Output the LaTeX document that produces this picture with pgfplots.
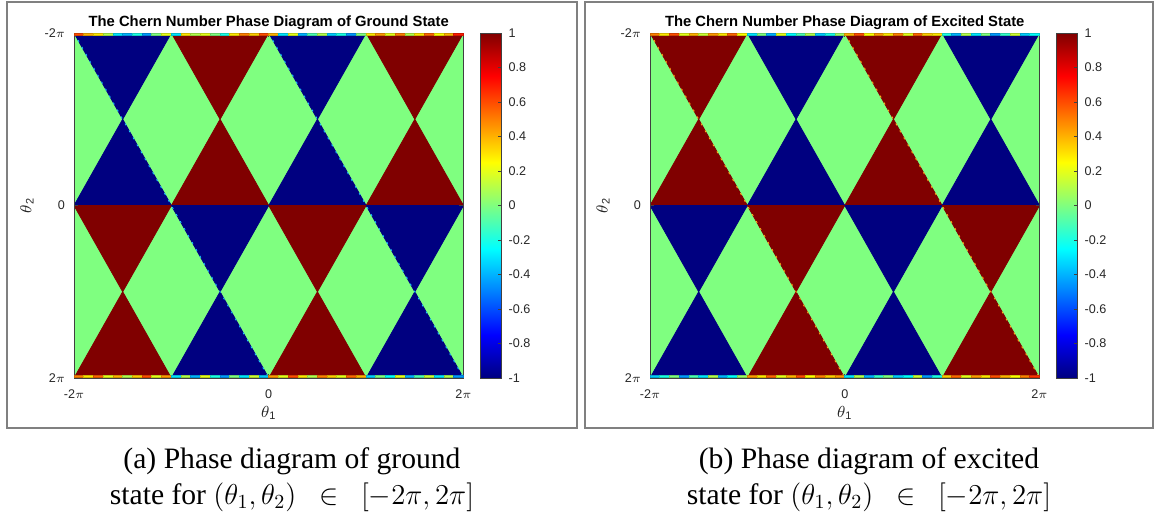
\documentclass[border=0pt]{standalone}
\usepackage{pgfplots}
\pgfplotsset{compat=1.18}
\usepackage{pgfplotstable}
\usepackage{fontspec}
\setmainfont{Liberation Serif}
\newfontfamily\lsans{Liberation Sans}

\definecolor{framegray}{gray}{0.5}
\definecolor{axgray}{gray}{0.25}
\definecolor{fringecyan}{rgb}{0.1,0.78,1}
\definecolor{fringeorange}{rgb}{1,0.68,0.1}

% triangles: x, y in units of pi ; c = Chern number
\pgfplotstableread{
x y c
-2 -2 0
2 -2 0
2 2 0
-2 -2 0
2 2 0
-2 2 0
-2 -2 -1
-1 -2 -1
-1.5 -1 -1
-1 -2 1
0 -2 1
-0.5 -1 1
0 -2 -1
1 -2 -1
0.5 -1 -1
1 -2 1
2 -2 1
1.5 -1 1
-2 0 -1
-1 0 -1
-1.5 -1 -1
-1 0 1
0 0 1
-0.5 -1 1
0 0 -1
1 0 -1
0.5 -1 -1
1 0 1
2 0 1
1.5 -1 1
-2 0 1
-1 0 1
-1.5 1 1
-1 0 -1
0 0 -1
-0.5 1 -1
0 0 1
1 0 1
0.5 1 1
1 0 -1
2 0 -1
1.5 1 -1
-2 2 1
-1 2 1
-1.5 1 1
-1 2 -1
0 2 -1
-0.5 1 -1
0 2 1
1 2 1
0.5 1 1
1 2 -1
2 2 -1
1.5 1 -1
}\groundtri

\pgfplotstableread{
x y c
-2 -2 0
2 -2 0
2 2 0
-2 -2 0
2 2 0
-2 2 0
-2 -2 1
-1 -2 1
-1.5 -1 1
-1 -2 -1
0 -2 -1
-0.5 -1 -1
0 -2 1
1 -2 1
0.5 -1 1
1 -2 -1
2 -2 -1
1.5 -1 -1
-2 0 1
-1 0 1
-1.5 -1 1
-1 0 -1
0 0 -1
-0.5 -1 -1
0 0 1
1 0 1
0.5 -1 1
1 0 -1
2 0 -1
1.5 -1 -1
-2 0 -1
-1 0 -1
-1.5 1 -1
-1 0 1
0 0 1
-0.5 1 1
0 0 -1
1 0 -1
0.5 1 -1
1 0 1
2 0 1
1.5 1 1
-2 2 -1
-1 2 -1
-1.5 1 -1
-1 2 1
0 2 1
-0.5 1 1
0 2 -1
1 2 -1
0.5 1 -1
1 2 1
2 2 1
1.5 1 1
}\excitedtri

\pgfplotsset{
  chern/.style={
    scale only axis, width=194.75pt, height=172.5pt,
    xmin=-2, xmax=2, ymin=-2, ymax=2, y dir=reverse,
    axis on top,
    colormap/jet, point meta min=-1, point meta max=1,
    xtick={-2,0,2}, xticklabels={-2$\pi$,0,2$\pi$},
    ytick={-2,0,2}, yticklabels={-2$\pi$,0,2$\pi$},
    tick align=inside, major tick length=2pt,
    axis line style={axgray, line width=0.4pt},
    tick style={axgray, line width=0.4pt},
    every tick label/.append style={font=\lsans\fontsize{6.3}{7}\selectfont, text=black!85},
    xticklabel style={anchor=base, yshift=-10pt},
    yticklabel style={anchor=east, xshift=-1pt},
    every axis title shift=0pt,
    title style={font=\lsans\bfseries\fontsize{7.4}{8}\selectfont, at={([yshift=3.5pt]axis description cs:0.5,1)}, anchor=base},
    xlabel={$\theta$\textsubscript{1}},
    ylabel={$\theta$\textsubscript{2}},
    xlabel style={font=\lsans\fontsize{7.8}{9}\selectfont, text=black!85, at={([yshift=-19.5pt]axis description cs:0.5,0)}, anchor=base},
    ylabel style={font=\lsans\fontsize{7.8}{9}\selectfont, text=black!85, at={([xshift=-21.25pt]axis description cs:0,0.5)}, anchor=base},
    colorbar,
    colorbar style={
      at={(parent axis.north east)}, anchor=north west, xshift=-0.25pt,
      width=10.75pt,
      ytick={-1,-0.8,-0.6,-0.4,-0.2,0,0.2,0.4,0.6,0.8,1},
      yticklabels={-1,-0.8,-0.6,-0.4,-0.2,0,0.2,0.4,0.6,0.8,1},
      ytick pos=right,
      tick align=inside, major tick length=2pt,
      axis line style={axgray, line width=0.4pt},
      tick style={axgray, line width=0.4pt},
      yticklabel style={font=\lsans\fontsize{6.3}{7}\selectfont, text=black!85},
    },
  },
  strip/.style={scatter, only marks, mark=square*, mark size=2.44pt,
    mark options={yscale=0.24}, point meta=explicit},
  fringe/.style={line width=0.45pt, dash pattern=on 1pt off 3pt},
}

\begin{document}
\begin{tikzpicture}
\path (0,0) rectangle (577.5pt,-259.5pt);
\draw[framegray, line width=0.6pt] (3.5pt,-1pt) rectangle (288.5pt,-214pt);
\draw[framegray, line width=0.6pt] (292.5pt,-1pt) rectangle (576.5pt,-214pt);

% ---------------- Ground state ----------------
\begin{axis}[chern, at={(37pt,-189pt)}, anchor=south west,
  title={The Chern Number Phase Diagram of Ground State}]
\addplot[patch, shader=flat] table[point meta=\thisrow{c}] {\groundtri};
\addplot[fringecyan, fringe] coordinates {(-2,-2) (0,2)};
\addplot[fringecyan, fringe] coordinates {(0,-2) (2,2)};
\addplot[strip] coordinates {
(-1.95,-1.985)[0.6] (-1.85,-1.985)[0.4] (-1.75,-1.985)[0.3] (-1.65,-1.985)[0.1] (-1.55,-1.985)[-0.3]
(-1.45,-1.985)[-0.4] (-1.35,-1.985)[-0.2] (-1.25,-1.985)[-0.45] (-1.15,-1.985)[0.0] (-1.05,-1.985)[0.2]
(-0.95,-1.985)[-0.3] (-0.85,-1.985)[0.3] (-0.75,-1.985)[0.1] (-0.65,-1.985)[0.2] (-0.55,-1.985)[0.0]
(-0.45,-1.985)[-0.2] (-0.35,-1.985)[0.3] (-0.25,-1.985)[0.5] (-0.15,-1.985)[0.35] (-0.05,-1.985)[0.6]
(0.05,-1.985)[0.4] (0.15,-1.985)[-0.3] (0.25,-1.985)[0.2] (0.35,-1.985)[-0.4] (0.45,-1.985)[-0.1]
(0.55,-1.985)[0.1] (0.65,-1.985)[-0.35] (0.75,-1.985)[-0.2] (0.85,-1.985)[-0.45] (0.95,-1.985)[0.0]
(1.05,-1.985)[0.3] (1.15,-1.985)[0.45] (1.25,-1.985)[0.2] (1.35,-1.985)[0.5] (1.45,-1.985)[0.1]
(1.55,-1.985)[0.3] (1.65,-1.985)[0.55] (1.75,-1.985)[0.25] (1.85,-1.985)[0.4] (1.95,-1.985)[0.7]
};
\addplot[strip] coordinates {
(-1.95,1.985)[0.5] (-1.85,1.985)[0.3] (-1.75,1.985)[0.55] (-1.65,1.985)[0.2] (-1.55,1.985)[0.4]
(-1.45,1.985)[0.1] (-1.35,1.985)[0.35] (-1.25,1.985)[0.6] (-1.15,1.985)[0.2] (-1.05,1.985)[0.45]
(-0.95,1.985)[-0.3] (-0.85,1.985)[0.1] (-0.75,1.985)[-0.4] (-0.65,1.985)[0.2] (-0.55,1.985)[-0.2]
(-0.45,1.985)[-0.45] (-0.35,1.985)[0.0] (-0.25,1.985)[-0.3] (-0.15,1.985)[0.15] (-0.05,1.985)[-0.35]
(0.05,1.985)[0.45] (0.15,1.985)[0.2] (0.25,1.985)[0.6] (0.35,1.985)[0.3] (0.45,1.985)[0.1]
(0.55,1.985)[0.5] (0.65,1.985)[0.35] (0.75,1.985)[0.2] (0.85,1.985)[0.55] (0.95,1.985)[0.4]
(1.05,1.985)[-0.35] (1.15,1.985)[0.0] (1.25,1.985)[-0.25] (1.35,1.985)[0.2] (1.45,1.985)[-0.4]
(1.55,1.985)[-0.1] (1.65,1.985)[0.15] (1.75,1.985)[-0.3] (1.85,1.985)[0.1] (1.95,1.985)[-0.45]
};
\end{axis}

% ---------------- Excited state ----------------
\begin{axis}[chern, at={(325pt,-189pt)}, anchor=south west,
  title={The Chern Number Phase Diagram of Excited State}]
\addplot[patch, shader=flat] table[point meta=\thisrow{c}] {\excitedtri};
\addplot[fringeorange, fringe] coordinates {(-2,-2) (0,2)};
\addplot[fringeorange, fringe] coordinates {(0,-2) (2,2)};
\addplot[strip] coordinates {
(-1.95,-1.985)[0.5] (-1.85,-1.985)[0.3] (-1.75,-1.985)[0.6] (-1.65,-1.985)[0.2] (-1.55,-1.985)[0.4]
(-1.45,-1.985)[0.15] (-1.35,-1.985)[0.45] (-1.25,-1.985)[0.3] (-1.15,-1.985)[0.55] (-1.05,-1.985)[0.25]
(-0.95,-1.985)[-0.3] (-0.85,-1.985)[0.0] (-0.75,-1.985)[-0.4] (-0.65,-1.985)[0.2] (-0.55,-1.985)[-0.25]
(-0.45,-1.985)[-0.1] (-0.35,-1.985)[0.1] (-0.25,-1.985)[-0.35] (-0.15,-1.985)[-0.2] (-0.05,-1.985)[0.05]
(0.05,-1.985)[0.4] (0.15,-1.985)[0.6] (0.25,-1.985)[0.25] (0.35,-1.985)[0.45] (0.45,-1.985)[0.3]
(0.55,-1.985)[0.5] (0.65,-1.985)[0.2] (0.75,-1.985)[0.55] (0.85,-1.985)[0.35] (0.95,-1.985)[0.3]
(1.05,-1.985)[-0.2] (1.15,-1.985)[-0.4] (1.25,-1.985)[0.1] (1.35,-1.985)[-0.3] (1.45,-1.985)[0.0]
(1.55,-1.985)[-0.45] (1.65,-1.985)[-0.15] (1.75,-1.985)[0.15] (1.85,-1.985)[-0.35] (1.95,-1.985)[-0.25]
};
\addplot[strip] coordinates {
(-1.95,1.985)[-0.35] (-1.85,1.985)[-0.2] (-1.75,1.985)[0.0] (-1.65,1.985)[-0.45] (-1.55,1.985)[-0.1]
(-1.45,1.985)[-0.3] (-1.35,1.985)[0.1] (-1.25,1.985)[-0.4] (-1.15,1.985)[-0.25] (-1.05,1.985)[0.05]
(-0.95,1.985)[0.45] (-0.85,1.985)[0.3] (-0.75,1.985)[0.55] (-0.65,1.985)[0.2] (-0.55,1.985)[0.4]
(-0.45,1.985)[0.6] (-0.35,1.985)[0.25] (-0.25,1.985)[0.5] (-0.15,1.985)[0.35] (-0.05,1.985)[0.45]
(0.05,1.985)[-0.3] (0.15,1.985)[0.1] (0.25,1.985)[-0.4] (0.35,1.985)[-0.15] (0.45,1.985)[0.0]
(0.55,1.985)[-0.35] (0.65,1.985)[-0.25] (0.75,1.985)[0.15] (0.85,1.985)[-0.45] (0.95,1.985)[-0.2]
(1.05,1.985)[0.35] (1.15,1.985)[0.55] (1.25,1.985)[0.2] (1.35,1.985)[0.45] (1.45,1.985)[0.3]
(1.55,1.985)[0.6] (1.65,1.985)[0.4] (1.75,1.985)[0.25] (1.85,1.985)[0.5] (1.95,1.985)[0.65]
};
\end{axis}

% captions
\begin{scope}[every node/.style={anchor=base, inner sep=0pt, font=\fontsize{14.8}{17}\selectfont}]
\node at (146pt,-234pt) {(a) Phase diagram of ground};
\node at (146pt,-252pt) {state for $(\theta_1,\theta_2)\enspace\in\enspace[-2\pi,2\pi]$};
\node at (434.5pt,-234pt) {(b) Phase diagram of excited};
\node at (434.5pt,-252pt) {state for $(\theta_1,\theta_2)\enspace\in\enspace[-2\pi,2\pi]$};
\end{scope}

\pgfresetboundingbox
\path[use as bounding box] (0,0) rectangle (577.5pt,-259.5pt);
\end{tikzpicture}
\end{document}
